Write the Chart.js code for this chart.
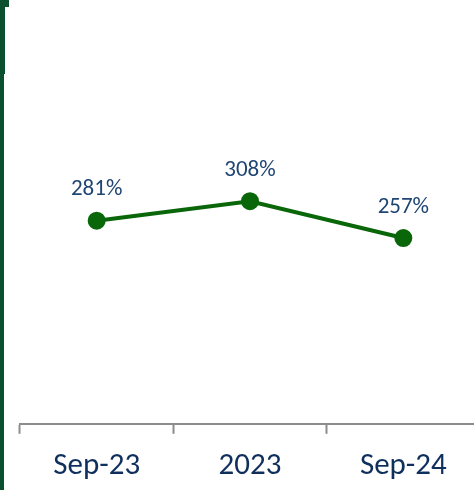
<!DOCTYPE html>
<html>
<head>
<meta charset="utf-8">
<script src="https://cdn.jsdelivr.net/npm/chart.js@4"></script>
<style>
  html, body { margin: 0; padding: 0; background: #fff; overflow: hidden; }
  #wrap { position: relative; width: 480px; height: 490px; }
  .bar { position: absolute; background: #0B5130; }
</style>
</head>
<body>
<div id="wrap">
  <div class="bar" style="left:0;top:0;width:9px;height:7px"></div>
  <div class="bar" style="left:0;top:0;width:5px;height:74px"></div>
  <div class="bar" style="left:0;top:0;width:4px;height:490px"></div>
  <canvas id="ratioChart" width="480" height="490" style="position:absolute;left:0;top:0"></canvas>
</div>
<script>
var periods = ['Sep-23', '2023', 'Sep-24'];
var ratios = [281, 308, 257];

var labelFont = "Carlito, Lato, 'Liberation Sans', sans-serif";

// value labels above each point
var pointLabels = {
  id: 'pointLabels',
  afterDatasetsDraw: function (chart) {
    var ctx = chart.ctx;
    var meta = chart.getDatasetMeta(0);
    ctx.save();
    ctx.fillStyle = '#1F4573';
    ctx.font = '23px ' + labelFont;
    ctx.textAlign = 'center';
    ctx.textBaseline = 'middle';
    meta.data.forEach(function (pt, i) {
      ctx.fillText(ratios[i] + '%', pt.x, pt.y - 31);
    });
    ctx.restore();
  },
};

var ratioChart = new Chart(document.getElementById('ratioChart'), {
  type: 'line',
  data: {
    labels: periods,
    datasets: [
      {
        data: ratios,
        borderColor: '#096609',
        backgroundColor: '#096609',
        borderWidth: 4,
        pointRadius: 7,
        pointHoverRadius: 7,
        tension: 0,
      },
    ],
  },
  options: {
    responsive: false,
    animation: false,
    layout: {
      autoPadding: false,
      padding: { left: 20, right: 0, top: 1, bottom: -9 },
    },
    plugins: {
      legend: { display: false },
      tooltip: { enabled: false },
    },
    scales: {
      y: {
        display: false,
        min: 0,
        max: 585,
      },
      x: {
        offset: true,
        border: { display: true, color: '#8C8C8C', width: 2 },
        grid: {
          offset: true,
          drawOnChartArea: false,
          drawTicks: true,
          tickLength: 10,
          tickWidth: 2,
          tickColor: '#8C8C8C',
        },
        ticks: {
          color: '#0F2F5C',
          padding: 14,
          font: { size: 31, family: labelFont },
        },
      },
    },
  },
  plugins: [pointLabels],
});
</script>
</body>
</html>
